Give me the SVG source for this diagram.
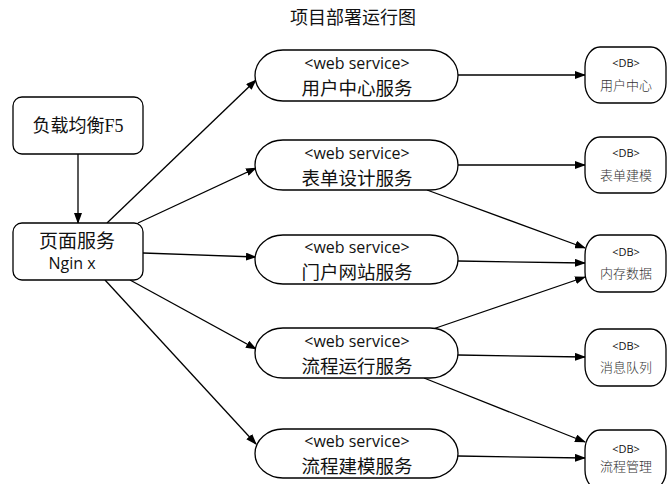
<svg xmlns="http://www.w3.org/2000/svg" width="667" height="484" viewBox="0 0 667 484">
<defs>
<style>
.box{fill:#fff;stroke:#000;stroke-width:1.3}
.ws{fill:#fff;stroke:#000;stroke-width:1.3}
.db{fill:#fff;stroke:#000;stroke-width:1.3}
.cn{font-family:"Noto Sans CJK SC","Liberation Sans",sans-serif;fill:#111;text-anchor:middle}
.en{font-family:"Open Sans","Liberation Sans",sans-serif;fill:#111;text-anchor:middle}
.wl{font-size:16px}
.wc{font-size:18.5px}
.dl{font-size:11px}
.dc{font-size:13px;fill:#333;font-family:"Noto Sans CJK SC",sans-serif;font-weight:300}
.line{stroke:#000;stroke-width:1.3;fill:none;marker-end:url(#ah)}
</style>
<marker id="ah" markerWidth="11" markerHeight="8" refX="10" refY="4" orient="auto" markerUnits="userSpaceOnUse">
<path d="M0,0 L11,4 L0,8 Z" fill="#000"/>
</marker>
</defs>
<rect width="667" height="484" fill="#fff"/>
<text class="cn" x="353" y="24" font-size="18">项目部署运行图</text>

<g id="connectors">
<line class="line" x1="78" y1="154" x2="78" y2="223"/>
<line class="line" x1="107" y1="223" x2="256" y2="80"/>
<line class="line" x1="138" y1="223" x2="256" y2="168"/>
<line class="line" x1="143" y1="253" x2="256" y2="257"/>
<line class="line" x1="130" y1="280" x2="256" y2="349"/>
<line class="line" x1="105" y1="280" x2="256" y2="444"/>
<line class="line" x1="458" y1="75" x2="585" y2="75"/>
<line class="line" x1="458" y1="165" x2="585" y2="165"/>
<line class="line" x1="427" y1="190" x2="585" y2="248"/>
<line class="line" x1="458" y1="261" x2="585" y2="263"/>
<line class="line" x1="433" y1="329" x2="585" y2="277"/>
<line class="line" x1="458" y1="355" x2="585" y2="357"/>
<line class="line" x1="424" y1="378" x2="585" y2="442"/>
<line class="line" x1="458" y1="456" x2="585" y2="458"/>
</g>

<g id="lb">
<rect class="box" x="13" y="97" width="130" height="57" rx="9"/>
<text x="78" y="132" font-size="18" text-anchor="middle" fill="#111"><tspan font-family="Noto Sans CJK SC, sans-serif">负载均衡</tspan><tspan font-family="Liberation Serif, serif">F5</tspan></text>
</g>
<g id="nginx">
<rect class="box" x="13" y="223" width="130" height="57" rx="9"/>
<text class="cn" x="77" y="248" font-size="19">页面服务</text>
<text class="en" x="72" y="269" font-size="16">Ngin x</text>
</g>

<g id="ws1">
<rect class="ws" x="255" y="50" width="203" height="51" rx="28" ry="25.5"/>
<text class="en wl" x="357" y="69">&lt;web service&gt;</text>
<text class="cn wc" x="357" y="95">用户中心服务</text>
</g>
<g id="ws2">
<rect class="ws" x="255" y="140" width="203" height="50" rx="28" ry="25"/>
<text class="en wl" x="357" y="159">&lt;web service&gt;</text>
<text class="cn wc" x="357" y="185">表单设计服务</text>
</g>
<g id="ws3">
<rect class="ws" x="255" y="235" width="203" height="49" rx="28" ry="24.5"/>
<text class="en wl" x="357" y="253">&lt;web service&gt;</text>
<text class="cn wc" x="357" y="279">门户网站服务</text>
</g>
<g id="ws4">
<rect class="ws" x="255" y="328" width="203" height="50" rx="28" ry="25"/>
<text class="en wl" x="357" y="347">&lt;web service&gt;</text>
<text class="cn wc" x="357" y="373">流程运行服务</text>
</g>
<g id="ws5">
<rect class="ws" x="255" y="429" width="203" height="49" rx="28" ry="24.5"/>
<text class="en wl" x="357" y="447">&lt;web service&gt;</text>
<text class="cn wc" x="357" y="473">流程建模服务</text>
</g>

<g id="db1">
<rect class="db" x="585" y="47" width="81" height="56" rx="15" ry="20"/>
<text class="en dl" x="626" y="67">&lt;DB&gt;</text>
<text class="cn dc" x="626" y="90">用户中心</text>
</g>
<g id="db2">
<rect class="db" x="585" y="137" width="81" height="56" rx="15" ry="20"/>
<text class="en dl" x="626" y="157">&lt;DB&gt;</text>
<text class="cn dc" x="626" y="180">表单建模</text>
</g>
<g id="db3">
<rect class="db" x="585" y="235" width="81" height="57" rx="15" ry="20"/>
<text class="en dl" x="626" y="256">&lt;DB&gt;</text>
<text class="cn dc" x="626" y="278">内存数据</text>
</g>
<g id="db4">
<rect class="db" x="585" y="329" width="81" height="57" rx="15" ry="20"/>
<text class="en dl" x="626" y="350">&lt;DB&gt;</text>
<text class="cn dc" x="626" y="372">消息队列</text>
</g>
<g id="db5">
<rect class="db" x="585" y="430" width="81" height="60" rx="15" ry="20"/>
<text class="en dl" x="626" y="453">&lt;DB&gt;</text>
<text class="cn dc" x="626" y="471">流程管理</text>
</g>
</svg>
